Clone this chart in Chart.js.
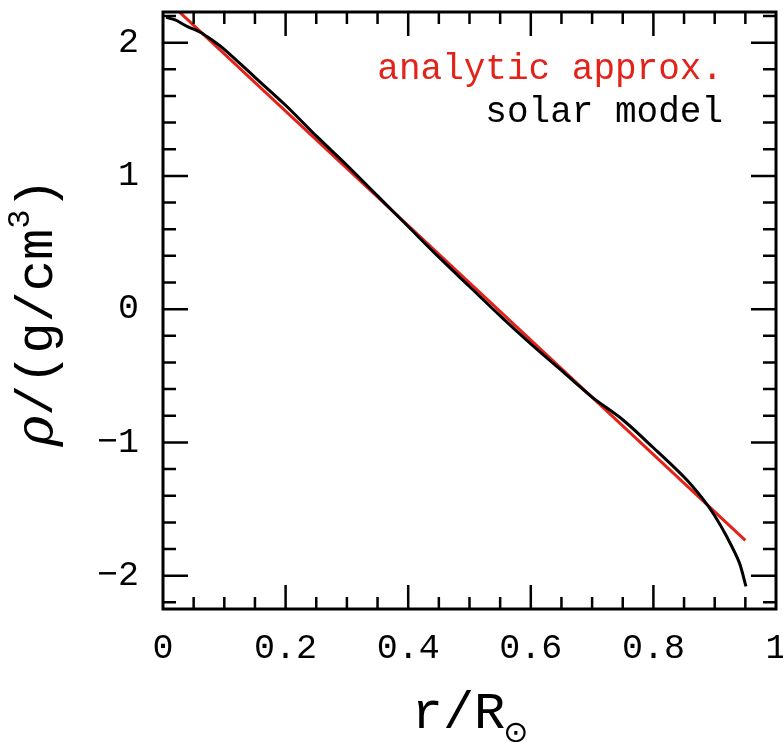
<!DOCTYPE html>
<html>
<head>
<meta charset="utf-8">
<script src="https://cdn.jsdelivr.net/npm/chart.js@4/dist/chart.umd.min.js"></script>
<style>
  html, body { margin: 0; padding: 0; background: #fff; }
  canvas { display: block; }
</style>
</head>
<body>
<canvas id="rhoChart" width="783" height="742"></canvas>
<script>
// solar model density profile (log scale)
var rModel = [0.005, 0.02, 0.04, 0.06, 0.08, 0.10, 0.15, 0.20, 0.25, 0.30, 0.35, 0.40, 0.45,
              0.50, 0.55, 0.60, 0.65, 0.70, 0.75, 0.80, 0.85, 0.88, 0.90, 0.92, 0.94, 0.951];
var rhoModel = [2.19, 2.17, 2.12, 2.08, 2.02, 1.95, 1.74, 1.53, 1.30, 1.08, 0.85, 0.62, 0.39,
                0.17, -0.05, -0.26, -0.46, -0.66, -0.83, -1.04, -1.26, -1.42, -1.55, -1.71, -1.90, -2.08];

// analytic approximation (straight line)
var rApprox = [0, 0.95];
var rhoApprox = [2.345, -1.735];

var xTicks = [0, 0.2, 0.4, 0.6, 0.8, 1];
var yTicks = [-2, -1, 0, 1, 2];

var RED = '#e3221a';
var MONO = '"Liberation Mono", "DejaVu Sans Mono", monospace';

function pairs(xs, ys) {
    return xs.map(function(x, i){ return {x: x, y: ys[i]}; });
}

// frame, inward ticks on all four sides, legend text and axis titles
var framePlugin = {
    id: 'frame',
    afterDraw: function(chart) {
        var ctx = chart.ctx;
        var a = chart.chartArea;
        var xs = chart.scales.x, ys = chart.scales.y;
        ctx.save();
        ctx.strokeStyle = '#000';
        ctx.lineWidth = 3;
        ctx.strokeRect(a.left, a.top, a.right - a.left, a.bottom - a.top);

        ctx.lineWidth = 2.5;
        ctx.beginPath();
        for (var i = 1; i < 20; i++) {
            var v = i * 0.05;
            var px = xs.getPixelForValue(v);
            var len = (i % 4 === 0) ? 24 : 12;
            ctx.moveTo(px, a.bottom); ctx.lineTo(px, a.bottom - len);
            ctx.moveTo(px, a.top); ctx.lineTo(px, a.top + len);
        }
        for (var j = -11; j <= 11; j++) {
            var w = j * 0.2;
            var py = ys.getPixelForValue(w);
            var l2 = (j % 5 === 0) ? 25 : 13;
            ctx.moveTo(a.left, py); ctx.lineTo(a.left + l2, py);
            ctx.moveTo(a.right, py); ctx.lineTo(a.right - l2, py);
        }
        ctx.stroke();

        // legend text
        ctx.font = '36px ' + MONO;
        ctx.textAlign = 'right';
        ctx.textBaseline = 'alphabetic';
        ctx.fillStyle = chart.data.datasets[1].borderColor;
        ctx.fillText(chart.data.datasets[1].label, 723, 79);
        ctx.fillStyle = chart.data.datasets[0].borderColor;
        ctx.fillText(chart.data.datasets[0].label, 723, 122);

        // x title r/R_sun
        ctx.fillStyle = '#000';
        ctx.font = '52px ' + MONO;
        ctx.textAlign = 'left';
        var main = 'r/R';
        var wMain = ctx.measureText(main).width;
        var cx = (a.left + a.right) / 2;
        var x0 = cx - (wMain + 22) / 2;
        ctx.fillText(main, x0, 728);
        ctx.font = '30px "DejaVu Sans", sans-serif';
        ctx.fillText('\u2299', x0 + wMain - 2, 742);

        // y title rho/(g/cm^3)
        ctx.save();
        ctx.translate(52, (a.top + a.bottom) / 2 + 2);
        ctx.rotate(-Math.PI / 2);
        ctx.font = 'italic 52px "DejaVu Serif", serif';
        var t1 = '\u03C1';
        var w1 = ctx.measureText(t1).width;
        ctx.font = '52px ' + MONO;
        var t2 = '/(g/cm';
        var w2 = ctx.measureText(t2).width;
        var t4 = ')';
        var w4 = ctx.measureText(t4).width;
        ctx.font = '32px ' + MONO;
        var t3 = '3';
        var w3 = ctx.measureText(t3).width;
        var start = -(w1 + w2 + w3 + w4) / 2;
        ctx.font = 'italic 52px "DejaVu Serif", serif';
        ctx.fillText(t1, start, 0);
        ctx.font = '52px ' + MONO;
        ctx.fillText(t2, start + w1, 0);
        ctx.font = '32px ' + MONO;
        ctx.fillText(t3, start + w1 + w2, -23);
        ctx.font = '52px ' + MONO;
        ctx.fillText(t4, start + w1 + w2 + w3, 0);
        ctx.restore();

        ctx.restore();
    }
};

var ctx = document.getElementById('rhoChart').getContext('2d');
var rhoChart = new Chart(ctx, {
    type: 'line',
    data: {
        datasets: [{
            label: 'solar model',
            data: pairs(rModel, rhoModel),
            borderColor: '#000',
            borderWidth: 3,
            pointRadius: 0,
            tension: 0.3,
            fill: false
        }, {
            label: 'analytic approx.',
            data: pairs(rApprox, rhoApprox),
            borderColor: RED,
            borderWidth: 3,
            pointRadius: 0,
            fill: false
        }]
    },
    options: {
        responsive: false,
        animation: false,
        devicePixelRatio: 1,
        layout: { padding: { top: 12, right: 7, left: 0, bottom: 0 } },
        plugins: {
            legend: { display: false },
            tooltip: { enabled: false },
            title: { display: false }
        },
        scales: {
            x: {
                type: 'linear',
                min: 0,
                max: 1,
                grid: { display: false },
                border: { display: false },
                afterBuildTicks: function(scale) {
                    scale.ticks = xTicks.map(function(v){ return {value: v}; });
                },
                afterFit: function(scale) {
                    scale.height = 133;
                    scale.paddingLeft = 0;
                    scale.paddingRight = 0;
                },
                ticks: {
                    color: '#000',
                    padding: 11,
                    maxRotation: 0,
                    font: { family: MONO, size: 35 },
                    callback: function(v) { return String(v); }
                }
            },
            y: {
                type: 'linear',
                min: -2.25,
                max: 2.23,
                grid: { display: false },
                border: { display: false },
                afterBuildTicks: function(scale) {
                    scale.ticks = yTicks.map(function(v){ return {value: v}; });
                },
                afterFit: function(scale) {
                    scale.width = 163;
                    scale.paddingTop = 0;
                    scale.paddingBottom = 0;
                },
                ticks: {
                    color: '#000',
                    padding: 16,
                    font: { family: MONO, size: 35 },
                    callback: function(v) { return String(v).replace('-', '\u2212'); }
                }
            }
        }
    },
    plugins: [framePlugin]
});
</script>
</body>
</html>
